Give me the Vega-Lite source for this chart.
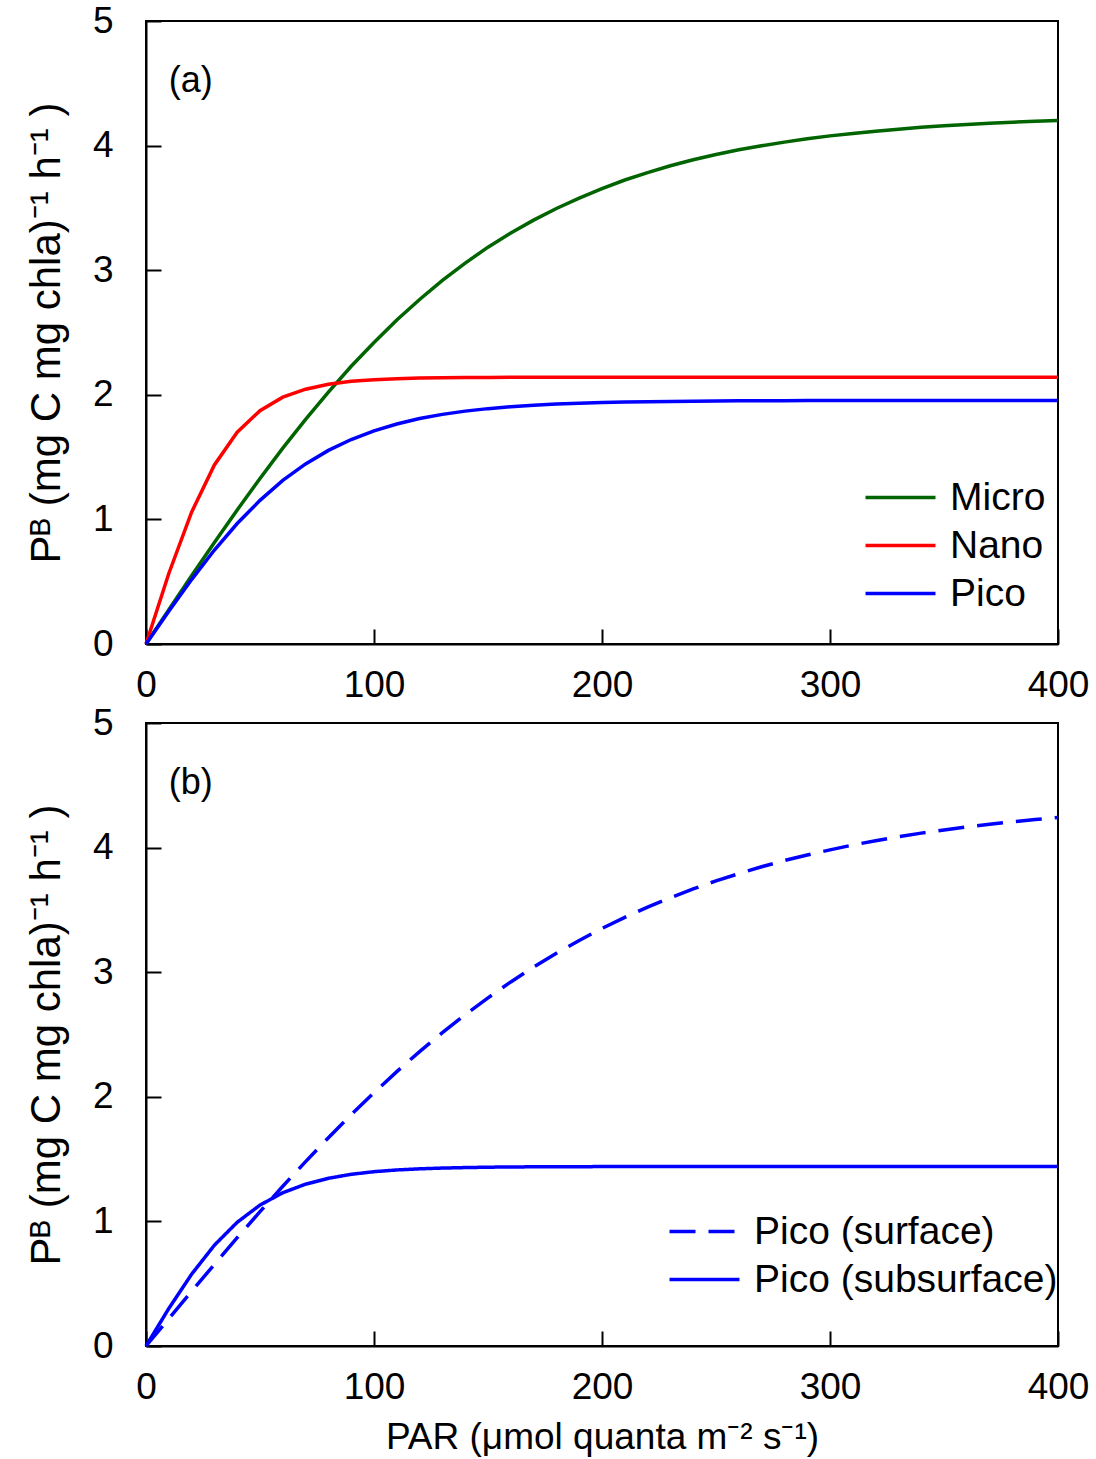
{
  "$schema": "https://vega.github.io/schema/vega-lite/v6.json",
  "background": "white",
  "padding": {"left": 24, "top": 1, "right": 5, "bottom": 5},
  "bounds": "flush",
  "spacing": 79,
  "config": {
    "font": "Liberation Sans",
    "view": {"stroke": "black", "strokeWidth": 2},
    "axis": {
      "grid": false,
      "labelFlush": false,
      "domainColor": "black",
      "domainWidth": 2,
      "tickColor": "black",
      "tickWidth": 2,
      "tickSize": -15,
      "labelFontSize": 37,
      "labelColor": "black",
      "labelFont": "Liberation Sans",
      "titleFont": "Liberation Sans",
      "titleFontSize": 37,
      "titleFontWeight": "normal",
      "titleColor": "black"
    },
    "legend": {
      "labelFont": "Liberation Sans",
      "labelFontSize": 39,
      "labelColor": "black",
      "labelLimit": 500,
      "symbolType": "M-3,0H3",
      "symbolSize": 544,
      "symbolStrokeWidth": 3.5,
      "labelOffset": 30,
      "rowPadding": 8,
      "padding": 0
    }
  },
  "datasets": {
    "a": [
      {"par":0,"pb":0,"g":"Micro"},{"par":10,"pb":0.275,"g":"Micro"},{"par":20,"pb":0.547,"g":"Micro"},{"par":30,"pb":0.815,"g":"Micro"},{"par":40,"pb":1.076,"g":"Micro"},{"par":50,"pb":1.329,"g":"Micro"},{"par":60,"pb":1.572,"g":"Micro"},{"par":70,"pb":1.803,"g":"Micro"},{"par":80,"pb":2.022,"g":"Micro"},{"par":90,"pb":2.229,"g":"Micro"},{"par":100,"pb":2.42,"g":"Micro"},{"par":110,"pb":2.6,"g":"Micro"},{"par":120,"pb":2.765,"g":"Micro"},{"par":130,"pb":2.918,"g":"Micro"},{"par":140,"pb":3.057,"g":"Micro"},{"par":150,"pb":3.185,"g":"Micro"},{"par":160,"pb":3.298,"g":"Micro"},{"par":170,"pb":3.402,"g":"Micro"},{"par":180,"pb":3.495,"g":"Micro"},{"par":190,"pb":3.579,"g":"Micro"},{"par":200,"pb":3.655,"g":"Micro"},{"par":210,"pb":3.724,"g":"Micro"},{"par":220,"pb":3.783,"g":"Micro"},{"par":230,"pb":3.838,"g":"Micro"},{"par":240,"pb":3.886,"g":"Micro"},{"par":250,"pb":3.928,"g":"Micro"},{"par":260,"pb":3.966,"g":"Micro"},{"par":270,"pb":3.999,"g":"Micro"},{"par":280,"pb":4.028,"g":"Micro"},{"par":290,"pb":4.055,"g":"Micro"},{"par":300,"pb":4.078,"g":"Micro"},{"par":310,"pb":4.098,"g":"Micro"},{"par":320,"pb":4.116,"g":"Micro"},{"par":330,"pb":4.132,"g":"Micro"},{"par":340,"pb":4.147,"g":"Micro"},{"par":350,"pb":4.159,"g":"Micro"},{"par":360,"pb":4.17,"g":"Micro"},{"par":370,"pb":4.18,"g":"Micro"},{"par":380,"pb":4.188,"g":"Micro"},{"par":390,"pb":4.196,"g":"Micro"},{"par":400,"pb":4.202,"g":"Micro"},
      {"par":0,"pb":0,"g":"Nano"},{"par":10,"pb":0.566,"g":"Nano"},{"par":20,"pb":1.058,"g":"Nano"},{"par":30,"pb":1.437,"g":"Nano"},{"par":40,"pb":1.7,"g":"Nano"},{"par":50,"pb":1.873,"g":"Nano"},{"par":60,"pb":1.981,"g":"Nano"},{"par":70,"pb":2.045,"g":"Nano"},{"par":80,"pb":2.085,"g":"Nano"},{"par":90,"pb":2.108,"g":"Nano"},{"par":100,"pb":2.121,"g":"Nano"},{"par":110,"pb":2.129,"g":"Nano"},{"par":120,"pb":2.134,"g":"Nano"},{"par":130,"pb":2.136,"g":"Nano"},{"par":140,"pb":2.138,"g":"Nano"},{"par":150,"pb":2.139,"g":"Nano"},{"par":160,"pb":2.14,"g":"Nano"},{"par":170,"pb":2.14,"g":"Nano"},{"par":180,"pb":2.14,"g":"Nano"},{"par":190,"pb":2.14,"g":"Nano"},{"par":200,"pb":2.14,"g":"Nano"},{"par":210,"pb":2.14,"g":"Nano"},{"par":220,"pb":2.14,"g":"Nano"},{"par":230,"pb":2.14,"g":"Nano"},{"par":240,"pb":2.14,"g":"Nano"},{"par":250,"pb":2.14,"g":"Nano"},{"par":260,"pb":2.14,"g":"Nano"},{"par":270,"pb":2.14,"g":"Nano"},{"par":280,"pb":2.14,"g":"Nano"},{"par":290,"pb":2.14,"g":"Nano"},{"par":300,"pb":2.14,"g":"Nano"},{"par":310,"pb":2.14,"g":"Nano"},{"par":320,"pb":2.14,"g":"Nano"},{"par":330,"pb":2.14,"g":"Nano"},{"par":340,"pb":2.14,"g":"Nano"},{"par":350,"pb":2.14,"g":"Nano"},{"par":360,"pb":2.14,"g":"Nano"},{"par":370,"pb":2.14,"g":"Nano"},{"par":380,"pb":2.14,"g":"Nano"},{"par":390,"pb":2.14,"g":"Nano"},{"par":400,"pb":2.14,"g":"Nano"},
      {"par":0,"pb":0,"g":"Pico"},{"par":10,"pb":0.263,"g":"Pico"},{"par":20,"pb":0.517,"g":"Pico"},{"par":30,"pb":0.754,"g":"Pico"},{"par":40,"pb":0.967,"g":"Pico"},{"par":50,"pb":1.153,"g":"Pico"},{"par":60,"pb":1.313,"g":"Pico"},{"par":70,"pb":1.445,"g":"Pico"},{"par":80,"pb":1.554,"g":"Pico"},{"par":90,"pb":1.641,"g":"Pico"},{"par":100,"pb":1.711,"g":"Pico"},{"par":110,"pb":1.766,"g":"Pico"},{"par":120,"pb":1.81,"g":"Pico"},{"par":130,"pb":1.843,"g":"Pico"},{"par":140,"pb":1.869,"g":"Pico"},{"par":150,"pb":1.889,"g":"Pico"},{"par":160,"pb":1.904,"g":"Pico"},{"par":170,"pb":1.916,"g":"Pico"},{"par":180,"pb":1.926,"g":"Pico"},{"par":190,"pb":1.933,"g":"Pico"},{"par":200,"pb":1.938,"g":"Pico"},{"par":210,"pb":1.942,"g":"Pico"},{"par":220,"pb":1.945,"g":"Pico"},{"par":230,"pb":1.947,"g":"Pico"},{"par":240,"pb":1.949,"g":"Pico"},{"par":250,"pb":1.95,"g":"Pico"},{"par":260,"pb":1.952,"g":"Pico"},{"par":270,"pb":1.953,"g":"Pico"},{"par":280,"pb":1.953,"g":"Pico"},{"par":290,"pb":1.954,"g":"Pico"},{"par":300,"pb":1.954,"g":"Pico"},{"par":310,"pb":1.954,"g":"Pico"},{"par":320,"pb":1.955,"g":"Pico"},{"par":330,"pb":1.955,"g":"Pico"},{"par":340,"pb":1.955,"g":"Pico"},{"par":350,"pb":1.955,"g":"Pico"},{"par":360,"pb":1.955,"g":"Pico"},{"par":370,"pb":1.955,"g":"Pico"},{"par":380,"pb":1.955,"g":"Pico"},{"par":390,"pb":1.955,"g":"Pico"},{"par":400,"pb":1.955,"g":"Pico"}
    ],
    "b": [
      {"par":0,"pb":0,"g":"Pico (surface)"},{"par":10,"pb":0.22,"g":"Pico (surface)"},{"par":20,"pb":0.439,"g":"Pico (surface)"},{"par":30,"pb":0.655,"g":"Pico (surface)"},{"par":40,"pb":0.869,"g":"Pico (surface)"},{"par":50,"pb":1.078,"g":"Pico (surface)"},{"par":60,"pb":1.282,"g":"Pico (surface)"},{"par":70,"pb":1.48,"g":"Pico (surface)"},{"par":80,"pb":1.672,"g":"Pico (surface)"},{"par":90,"pb":1.856,"g":"Pico (surface)"},{"par":100,"pb":2.033,"g":"Pico (surface)"},{"par":110,"pb":2.202,"g":"Pico (surface)"},{"par":120,"pb":2.363,"g":"Pico (surface)"},{"par":130,"pb":2.515,"g":"Pico (surface)"},{"par":140,"pb":2.659,"g":"Pico (surface)"},{"par":150,"pb":2.794,"g":"Pico (surface)"},{"par":160,"pb":2.922,"g":"Pico (surface)"},{"par":170,"pb":3.041,"g":"Pico (surface)"},{"par":180,"pb":3.152,"g":"Pico (surface)"},{"par":190,"pb":3.255,"g":"Pico (surface)"},{"par":200,"pb":3.351,"g":"Pico (surface)"},{"par":210,"pb":3.44,"g":"Pico (surface)"},{"par":220,"pb":3.522,"g":"Pico (surface)"},{"par":230,"pb":3.598,"g":"Pico (surface)"},{"par":240,"pb":3.668,"g":"Pico (surface)"},{"par":250,"pb":3.733,"g":"Pico (surface)"},{"par":260,"pb":3.791,"g":"Pico (surface)"},{"par":270,"pb":3.846,"g":"Pico (surface)"},{"par":280,"pb":3.896,"g":"Pico (surface)"},{"par":290,"pb":3.941,"g":"Pico (surface)"},{"par":300,"pb":3.982,"g":"Pico (surface)"},{"par":310,"pb":4.021,"g":"Pico (surface)"},{"par":320,"pb":4.055,"g":"Pico (surface)"},{"par":330,"pb":4.087,"g":"Pico (surface)"},{"par":340,"pb":4.116,"g":"Pico (surface)"},{"par":350,"pb":4.142,"g":"Pico (surface)"},{"par":360,"pb":4.166,"g":"Pico (surface)"},{"par":370,"pb":4.187,"g":"Pico (surface)"},{"par":380,"pb":4.207,"g":"Pico (surface)"},{"par":390,"pb":4.225,"g":"Pico (surface)"},{"par":400,"pb":4.242,"g":"Pico (surface)"},
      {"par":0,"pb":0,"g":"Pico (subsurface)"},{"par":10,"pb":0.301,"g":"Pico (subsurface)"},{"par":20,"pb":0.576,"g":"Pico (subsurface)"},{"par":30,"pb":0.809,"g":"Pico (subsurface)"},{"par":40,"pb":0.993,"g":"Pico (subsurface)"},{"par":50,"pb":1.131,"g":"Pico (subsurface)"},{"par":60,"pb":1.23,"g":"Pico (subsurface)"},{"par":70,"pb":1.299,"g":"Pico (subsurface)"},{"par":80,"pb":1.346,"g":"Pico (subsurface)"},{"par":90,"pb":1.378,"g":"Pico (subsurface)"},{"par":100,"pb":1.399,"g":"Pico (subsurface)"},{"par":110,"pb":1.413,"g":"Pico (subsurface)"},{"par":120,"pb":1.422,"g":"Pico (subsurface)"},{"par":130,"pb":1.428,"g":"Pico (subsurface)"},{"par":140,"pb":1.432,"g":"Pico (subsurface)"},{"par":150,"pb":1.435,"g":"Pico (subsurface)"},{"par":160,"pb":1.437,"g":"Pico (subsurface)"},{"par":170,"pb":1.438,"g":"Pico (subsurface)"},{"par":180,"pb":1.439,"g":"Pico (subsurface)"},{"par":190,"pb":1.439,"g":"Pico (subsurface)"},{"par":200,"pb":1.44,"g":"Pico (subsurface)"},{"par":210,"pb":1.44,"g":"Pico (subsurface)"},{"par":220,"pb":1.44,"g":"Pico (subsurface)"},{"par":230,"pb":1.44,"g":"Pico (subsurface)"},{"par":240,"pb":1.44,"g":"Pico (subsurface)"},{"par":250,"pb":1.44,"g":"Pico (subsurface)"},{"par":260,"pb":1.44,"g":"Pico (subsurface)"},{"par":270,"pb":1.44,"g":"Pico (subsurface)"},{"par":280,"pb":1.44,"g":"Pico (subsurface)"},{"par":290,"pb":1.44,"g":"Pico (subsurface)"},{"par":300,"pb":1.44,"g":"Pico (subsurface)"},{"par":310,"pb":1.44,"g":"Pico (subsurface)"},{"par":320,"pb":1.44,"g":"Pico (subsurface)"},{"par":330,"pb":1.44,"g":"Pico (subsurface)"},{"par":340,"pb":1.44,"g":"Pico (subsurface)"},{"par":350,"pb":1.44,"g":"Pico (subsurface)"},{"par":360,"pb":1.44,"g":"Pico (subsurface)"},{"par":370,"pb":1.44,"g":"Pico (subsurface)"},{"par":380,"pb":1.44,"g":"Pico (subsurface)"},{"par":390,"pb":1.44,"g":"Pico (subsurface)"},{"par":400,"pb":1.44,"g":"Pico (subsurface)"}
    ],
    "labels": [
      {"panel":"a","par":10,"pb":4.52,"label":"(a)"},
      {"panel":"b","par":10,"pb":4.52,"label":"(b)"}
    ]
  },
  "vconcat": [
    {
      "width": 912,
      "height": 623,
      "layer": [
        {
          "data": {"name": "a"},
          "mark": {"type": "line", "strokeWidth": 3.5},
          "encoding": {
            "x": {"field": "par", "type": "quantitative", "scale": {"domain": [0, 400], "nice": false},
                  "axis": {"values": [0, 100, 200, 300, 400], "format": "d", "title": null, "labelPadding": 38}},
            "y": {"field": "pb", "type": "quantitative", "scale": {"domain": [0, 5], "nice": false},
                  "axis": {"values": [0, 1, 2, 3, 4, 5], "format": "d", "title": "Pᴮ (mg C mg chla)⁻¹ h⁻¹ )", "titleFontSize": 42, "labelPadding": 48, "titlePadding": 24}},
            "color": {"field": "g", "type": "nominal",
                      "scale": {"domain": ["Micro", "Nano", "Pico"], "range": ["#006400", "#ff0000", "#0000ff"]},
                      "legend": {"title": null, "orient": "none", "legendX": 735, "legendY": 457}}
          }
        },
        {
          "data": {"name": "labels"},
          "transform": [{"filter": "datum.panel == 'a'"}],
          "mark": {"type": "text", "align": "left", "baseline": "middle", "fontSize": 36, "font": "Liberation Sans", "color": "black"},
          "encoding": {
            "x": {"field": "par", "type": "quantitative"},
            "y": {"field": "pb", "type": "quantitative"},
            "text": {"field": "label"}
          }
        }
      ]
    },
    {
      "width": 912,
      "height": 623,
      "layer": [
        {
          "data": {"name": "b"},
          "mark": {"type": "line", "strokeWidth": 3.5, "color": "#0000ff"},
          "encoding": {
            "x": {"field": "par", "type": "quantitative", "scale": {"domain": [0, 400], "nice": false},
                  "axis": {"values": [0, 100, 200, 300, 400], "format": "d", "title": "PAR (μmol quanta m⁻² s⁻¹)", "labelPadding": 38, "titlePadding": 14}},
            "y": {"field": "pb", "type": "quantitative", "scale": {"domain": [0, 5], "nice": false},
                  "axis": {"values": [0, 1, 2, 3, 4, 5], "format": "d", "title": "Pᴮ (mg C mg chla)⁻¹ h⁻¹ )", "titleFontSize": 42, "labelPadding": 48, "titlePadding": 24}},
            "strokeDash": {"field": "g", "type": "nominal",
                           "scale": {"domain": ["Pico (surface)", "Pico (subsurface)"], "range": [[26, 13], [1, 0]]},
                           "legend": {"title": null, "orient": "none", "legendX": 539, "legendY": 489, "symbolStrokeColor": "#0000ff"}}
          }
        },
        {
          "data": {"name": "labels"},
          "transform": [{"filter": "datum.panel == 'b'"}],
          "mark": {"type": "text", "align": "left", "baseline": "middle", "fontSize": 36, "font": "Liberation Sans", "color": "black"},
          "encoding": {
            "x": {"field": "par", "type": "quantitative"},
            "y": {"field": "pb", "type": "quantitative"},
            "text": {"field": "label"}
          }
        }
      ]
    }
  ],
  "resolve": {"scale": {"color": "independent", "strokeDash": "independent"}, "legend": {"color": "independent", "strokeDash": "independent"}}
}
